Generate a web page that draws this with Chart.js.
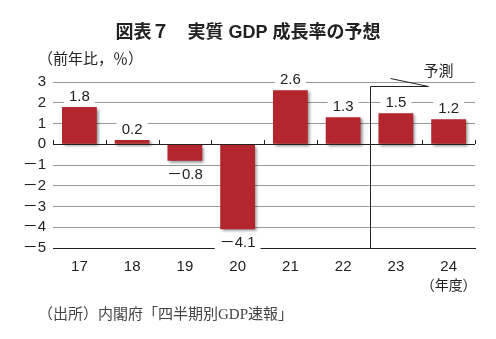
<!DOCTYPE html>
<html>
<head>
<meta charset="utf-8">
<script src="https://cdn.jsdelivr.net/npm/chart.js@4/dist/chart.umd.min.js"></script>
<style>
  html, body { margin: 0; padding: 0; background: #fff; }
  #wrap { position: relative; width: 496px; height: 339px; }
</style>
</head>
<body>
<div id="wrap"><canvas id="gdp-chart" width="496" height="339"></canvas></div>
<script>
// data
var years = ['17', '18', '19', '20', '21', '22', '23', '24'];
var growth = [1.8, 0.2, -0.8, -4.1, 2.6, 1.3, 1.5, 1.2];
var yTicks = [3, 2, 1, 0, -1, -2, -3, -4, -5];
var forecastFrom = 6; // index of first forecast year (23)

var titleText = '図表７　実質 GDP 成長率の予想';
var unitText = '（前年比，％）';
var forecastText = '予測';
var yearUnitText = '（年度）';
var sourceText = '（出所）内閣府「四半期別GDP速報」';

var sansFont = '"Liberation Sans", Arial, "Noto Sans CJK JP", sans-serif';
var serifFont = '"Liberation Serif", "Noto Sans CJK JP", serif';
var barColor = '#b3262e';
var inkColor = '#222';

function fmt(v) {
    // full width minus like the original
    return v < 0 ? '－' + Math.abs(v) : String(v);
}

// shadow under bars
var shadowPlugin = {
    id: 'barShadow',
    beforeDatasetsDraw: function (chart) {
        var ctx = chart.ctx;
        ctx.save();
        ctx.shadowColor = 'rgba(0, 0, 0, 0.45)';
        ctx.shadowBlur = 3;
        ctx.shadowOffsetX = 2;
        ctx.shadowOffsetY = 2;
    },
    afterDatasetsDraw: function (chart) {
        chart.ctx.restore();
    }
};

// value labels, zero-line ticks, forecast marker and texts
var decoPlugin = {
    id: 'deco',
    afterDatasetsDraw: function (chart) {
        var ctx = chart.ctx;
        var xs = chart.scales.x;
        var ys = chart.scales.y;
        var area = chart.chartArea;
        var meta = chart.getDatasetMeta(0);
        var catW = (area.right - area.left) / years.length;
        var y0 = ys.getPixelForValue(0);

        ctx.save();
        // zero line + little ticks
        ctx.strokeStyle = inkColor;
        ctx.lineWidth = 1;
        ctx.beginPath();
        ctx.moveTo(area.left, Math.round(y0) + 0.5);
        ctx.lineTo(area.right, Math.round(y0) + 0.5);
        for (var i = 0; i <= years.length; i++) {
            var tx = Math.round(area.left + i * catW) + 0.5;
            ctx.moveTo(tx, Math.round(y0));
            ctx.lineTo(tx, Math.round(y0) - 4);
        }
        ctx.stroke();

        // value labels with white box
        ctx.font = '15px ' + sansFont;
        ctx.textAlign = 'center';
        ctx.textBaseline = 'middle';
        meta.data.forEach(function (bar, idx) {
            var v = growth[idx];
            var label = fmt(v);
            var ly = v >= 0 ? bar.y - 10 : bar.y + 14;
            var w = ctx.measureText(label).width + 10;
            ctx.fillStyle = '#fff';
            ctx.fillRect(bar.x - w / 2, ly - 8, w, 16);
            ctx.fillStyle = inkColor;
            ctx.fillText(label, bar.x, ly);
        });

        // forecast marker
        var fx = Math.round(area.left + forecastFrom * catW) + 0.5;
        var fTop = Math.round(ys.getPixelForValue(2.82)) + 0.5;
        ctx.strokeStyle = inkColor;
        ctx.beginPath();
        ctx.moveTo(fx, area.bottom);
        ctx.lineTo(fx, fTop);
        ctx.lineTo(fx + 58, fTop);
        ctx.moveTo(fx + 20, fTop - 8);
        ctx.lineTo(fx + 58, fTop);
        ctx.stroke();

        ctx.fillStyle = inkColor;
        ctx.font = '15px ' + sansFont;
        ctx.textAlign = 'center';
        ctx.fillText(forecastText, fx + 68, fTop - 15);

        // texts
        ctx.font = 'bold 18px ' + sansFont;
        ctx.textAlign = 'center';
        ctx.fillText(titleText, 248, 33);

        ctx.font = '15px ' + sansFont;
        ctx.textAlign = 'left';
        ctx.fillText(unitText, 38, 60);

        ctx.font = '14px ' + sansFont;
        ctx.textAlign = 'center';
        ctx.fillText(yearUnitText, xs.getPixelForValue(7), 286);

        ctx.fillStyle = '#444';
        ctx.font = '15px ' + serifFont;
        ctx.textAlign = 'left';
        ctx.fillText(sourceText, 38, 315);
        ctx.restore();
    }
};

var gdpChart = new Chart(document.getElementById('gdp-chart'), {
    type: 'bar',
    data: {
        labels: years,
        datasets: [{
            data: growth,
            backgroundColor: barColor,
            borderWidth: 0,
            barPercentage: 0.66,
            categoryPercentage: 1
        }]
    },
    options: {
        responsive: false,
        animation: false,
        layout: {
            padding: { top: 82, right: 21, bottom: 0, left: 0 }
        },
        scales: {
            x: {
                grid: { display: false },
                border: { display: true, color: inkColor, width: 1 },
                ticks: {
                    padding: 2,
                    color: inkColor,
                    font: { family: sansFont, size: 15 }
                },
                afterFit: function (scale) { scale.height = 91; }
            },
            y: {
                min: -5,
                max: 3,
                afterBuildTicks: function (scale) {
                    scale.ticks = yTicks.map(function (v) { return { value: v }; });
                },
                grid: {
                    drawTicks: false,
                    color: function (c) {
                        return (c.tick && (c.tick.value === 0 || c.tick.value === -5)) ? inkColor : '#9a9a9a';
                    }
                },
                border: { display: false },
                ticks: {
                    autoSkip: false,
                    padding: 7,
                    color: inkColor,
                    font: { family: sansFont, size: 15 },
                    callback: function (v) { return fmt(v); }
                },
                afterFit: function (scale) { scale.width = 53; }
            }
        },
        plugins: {
            legend: { display: false },
            tooltip: { enabled: false }
        }
    },
    plugins: [shadowPlugin, decoPlugin]
});
</script>
</body>
</html>
